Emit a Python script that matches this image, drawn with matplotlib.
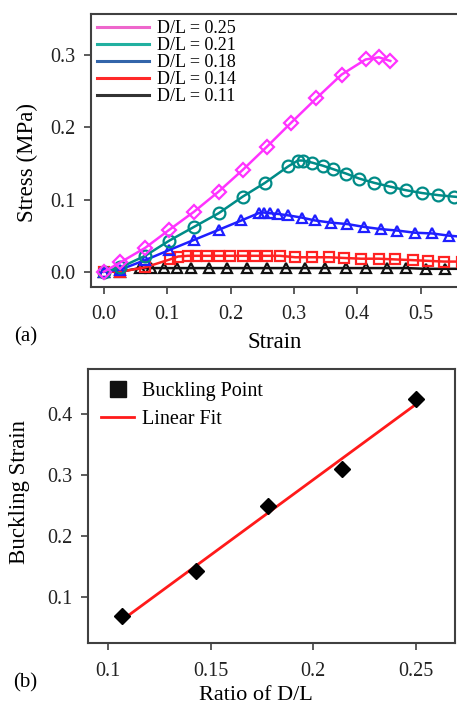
import numpy as np
import matplotlib
matplotlib.use('Agg')
import matplotlib.pyplot as plt
from matplotlib.lines import Line2D

plt.rcParams['font.family'] = ['Liberation Serif', 'DejaVu Serif']

# (a) stress-strain curves
labels_a = ['D/L = 0.25', 'D/L = 0.21', 'D/L = 0.18', 'D/L = 0.14', 'D/L = 0.11']

strain_025 = [0, 0.026, 0.065, 0.103, 0.142, 0.181, 0.219, 0.257, 0.295, 0.335,
              0.375, 0.413, 0.434, 0.452]
stress_025 = [0, 0.013, 0.033, 0.058, 0.083, 0.111, 0.141, 0.173, 0.206, 0.240,
              0.273, 0.294, 0.297, 0.292]

strain_021 = [0, 0.026, 0.065, 0.103, 0.142, 0.181, 0.219, 0.254, 0.291, 0.306,
              0.314, 0.329, 0.345, 0.362, 0.382, 0.403, 0.427, 0.451, 0.476, 0.502,
              0.528, 0.552, 0.577]
stress_021 = [0, 0.006, 0.022, 0.043, 0.062, 0.081, 0.104, 0.123, 0.146, 0.154,
              0.154, 0.151, 0.147, 0.142, 0.136, 0.129, 0.123, 0.118, 0.113, 0.109,
              0.106, 0.104, 0.102]

strain_018 = [0, 0.026, 0.065, 0.103, 0.142, 0.181, 0.217, 0.244, 0.252, 0.262,
              0.275, 0.291, 0.312, 0.333, 0.358, 0.384, 0.411, 0.437, 0.463, 0.491,
              0.518, 0.544, 0.570]
stress_018 = [0, 0.003, 0.016, 0.030, 0.044, 0.058, 0.071, 0.081, 0.082, 0.081,
              0.080, 0.078, 0.075, 0.071, 0.068, 0.066, 0.062, 0.059, 0.057, 0.054,
              0.053, 0.050, 0.048]

strain_014 = [0, 0.026, 0.065, 0.104, 0.117, 0.132, 0.146, 0.162, 0.181, 0.199,
              0.219, 0.239, 0.257, 0.278, 0.302, 0.328, 0.356, 0.379, 0.406, 0.434,
              0.460, 0.488, 0.512, 0.537, 0.565]
stress_014 = [0, 0.0, 0.006, 0.017, 0.021, 0.022, 0.022, 0.022, 0.022, 0.022,
              0.022, 0.022, 0.022, 0.022, 0.020, 0.020, 0.020, 0.019, 0.018, 0.018,
              0.017, 0.016, 0.015, 0.014, 0.014]

strain_011 = [0, 0.026, 0.057, 0.075, 0.094, 0.116, 0.138, 0.165, 0.194, 0.225,
              0.257, 0.288, 0.318, 0.349, 0.382, 0.414, 0.447, 0.477, 0.509, 0.539,
              0.570]
stress_011 = [0, 0.0, 0.005, 0.005, 0.005, 0.005, 0.005, 0.005, 0.005, 0.005,
              0.005, 0.005, 0.005, 0.005, 0.005, 0.005, 0.005, 0.005, 0.004, 0.004,
              0.004]

# (b) buckling strain vs D/L
ratio_dl = [0.107, 0.143, 0.178, 0.214, 0.250]
buckling_strain = [0.068, 0.142, 0.249, 0.310, 0.425]

data_colors = ['#ff33ff', '#008b87', '#1f1fff', '#ff2222', '#111111']
legend_colors = ['#ee66cc', '#22b0a0', '#3365aa', '#ff2a2a', '#333333']
markers = ['D', 'o', '^', 's', '^']
msizes = [7, 8.5, 7.5, 6.5, 7.5]

W, H = 457, 706
fig = plt.figure(figsize=(W / 100, H / 100), dpi=100)

spine_c = '#404040'


def style_axes(ax):
    for s in ax.spines.values():
        s.set_color(spine_c)
        s.set_linewidth(1.5)
    ax.tick_params(direction='out', length=5, width=1.2, color=spine_c,
                   labelsize=14.5, labelcolor='#222222', pad=6)


# ---- top panel ----
ax1 = fig.add_axes([91 / W, 1 - 287 / H, 1 - 91 / W, (287 - 14) / H])
series = [(strain_025, stress_025), (strain_021, stress_021), (strain_018, stress_018),
          (strain_014, stress_014), (strain_011, stress_011)]
for i in range(4, -1, -1):
    x, y = series[i]
    ax1.plot(x, y, color=data_colors[i], lw=1.8, marker=markers[i], ms=msizes[i],
             mfc='none', mec=data_colors[i], mew=1.6, clip_on=True)
ax1.set_xlim(-0.0205, 0.5573)
ax1.set_ylim(-0.0212, 0.357)
ax1.set_xticks([0.0, 0.1, 0.2, 0.3, 0.4, 0.5])
ax1.set_yticks([0.0, 0.1, 0.2, 0.3])
ax1.xaxis.set_major_formatter(plt.FormatStrFormatter('%.1f'))
ax1.yaxis.set_major_formatter(plt.FormatStrFormatter('%.1f'))
style_axes(ax1)
ax1.tick_params(axis='x', pad=8)
ax1.spines['right'].set_visible(False)
ax1.tick_params(right=False, top=False)

handles_a = [Line2D([], [], color=c, lw=2.2) for c in legend_colors]
ax1.legend(handles_a, labels_a, loc='upper left', frameon=False,
           bbox_to_anchor=(97 / W, 1 - 20 / H), bbox_transform=fig.transFigure,
           borderpad=0, borderaxespad=0, fontsize=13, handlelength=2.9,
           handletextpad=0.45, labelspacing=0.0)

ax1.set_xlabel('Strain', fontsize=16.5)
ax1.xaxis.set_label_coords(275 / W, 1 - 342 / H, transform=fig.transFigure)
ax1.xaxis.label.set_va('center')
ax1.set_ylabel('Stress (MPa)', fontsize=16.5)
ax1.yaxis.set_label_coords(27 / W, 1 - 162 / H, transform=fig.transFigure)
ax1.yaxis.label.set_va('center')
fig.text(26 / W, 1 - 337 / H, '(a)', fontsize=15, ha='center', va='center')

# ---- bottom panel ----
ax2 = fig.add_axes([88 / W, 1 - 643 / H, (455 - 88) / W, (643 - 369) / H])
ax2.plot(ratio_dl, buckling_strain, linestyle='none', marker='D', ms=8.5,
         color='black', zorder=3)
coef = np.polyfit(ratio_dl, buckling_strain, 1)
fit_x = np.array([ratio_dl[0], ratio_dl[-1]])
ax2.plot(fit_x, np.polyval(coef, fit_x), color='#ff1a1a', lw=2, zorder=2)
ax2.set_xlim(0.0902, 0.2692)
ax2.set_ylim(0.0243, 0.474)
ax2.set_xticks([0.1, 0.15, 0.2, 0.25])
ax2.set_xticklabels(['0.1', '0.15', '0.2', '0.25'])
ax2.set_yticks([0.1, 0.2, 0.3, 0.4])
ax2.set_yticklabels(['0.1', '0.2', '0.3', '0.4'])
style_axes(ax2)
ax2.tick_params(axis='x', pad=9)

handles_b = [Line2D([], [], linestyle='none', marker='s', ms=12, color='#111111'),
             Line2D([], [], color='#ff1a1a', lw=2)]
ax2.legend(handles_b, ['Buckling Point', 'Linear Fit'], loc='upper left', frameon=False,
           bbox_to_anchor=(101 / W, 1 - 382 / H), bbox_transform=fig.transFigure,
           borderpad=0, borderaxespad=0, fontsize=14.5, handlelength=1.65,
           handletextpad=0.4, labelspacing=0.42)

ax2.set_xlabel('Ratio of D/L', fontsize=16)
ax2.xaxis.set_label_coords(256 / W, 1 - 695 / H, transform=fig.transFigure)
ax2.xaxis.label.set_va('center')
ax2.set_ylabel('Buckling Strain', fontsize=16.5)
ax2.yaxis.set_label_coords(20 / W, 1 - 492 / H, transform=fig.transFigure)
ax2.yaxis.label.set_va('center')
fig.text(25 / W, 1 - 683 / H, '(b)', fontsize=15, ha='center', va='center')

fig.savefig('out.png', dpi=100)
